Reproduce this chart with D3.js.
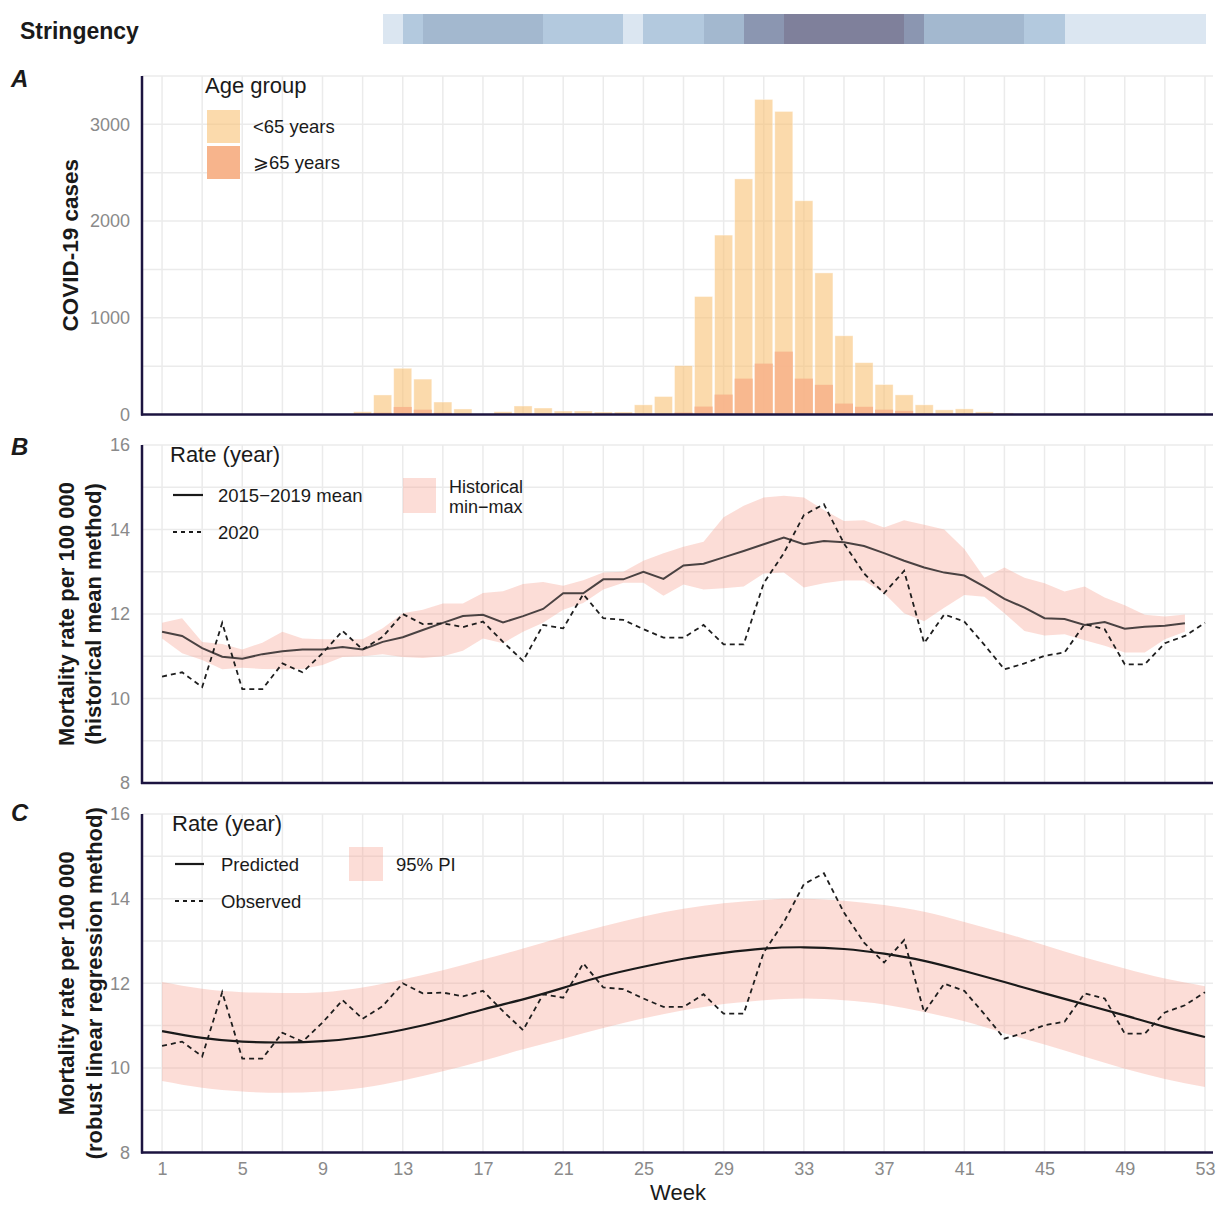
<!DOCTYPE html>
<html>
<head>
<meta charset="utf-8">
<script src="https://cdn.jsdelivr.net/npm/d3@7"></script>
<style>
  body { margin: 0; background: #fff; }
  text { font-family: "Liberation Sans", Arial, Helvetica, sans-serif; }
</style>
</head>
<body>
<svg id="chart" width="1216" height="1206"></svg>
<script>
// ---------------- DATA ----------------
const weeks = d3.range(1, 54); // 1..53

// Panel A: weekly COVID-19 cases by age group
const casesUnder65 = [0,0,0,0,0,0,0,0,0,0,
  29,202,478,366,129,57,0,29,88,67,
  36,36,26,26,100,186,505,1220,1855,2436,
  3258,3134,2210,1464,814,536,310,203,100,48,
  58,27,16,0,0,0,0,0,0,0,0,0,0];
const cases65plus = [0,0,0,0,0,0,0,0,0,0,
  0,19,78,50,18,5,0,0,0,0,
  0,0,0,0,0,5,20,82,206,371,
  526,650,371,307,113,80,50,38,10,5,
  0,0,0,0,0,0,0,0,0,0,0,0,0];

// Stringency level per week (tile spans week w .. w+1)
const stringencyWeeks = d3.range(12, 53);
const stringencyLevel = [1,2,3,3,3,3,3,3,2,2,2,2,1,2,2,2,3,3,4,4,5,5,5,5,5,5,4,3,3,3,3,3,2,2,1,1,1,1,1,1,1];

// Panel B: mortality rate per 100 000 (historical mean method)
const mean2015_2019 = [11.58,11.48,11.19,10.99,10.94,11.05,11.12,11.16,11.16,11.22,
  11.16,11.34,11.45,11.62,11.79,11.95,11.98,11.80,11.95,12.12,
  12.49,12.49,12.82,12.82,13.00,12.83,13.15,13.19,13.34,13.49,
  13.65,13.81,13.65,13.73,13.70,13.61,13.44,13.26,13.10,12.98,
  12.91,12.65,12.36,12.15,11.90,11.88,11.74,11.81,11.65,11.70,11.72,11.78];
const histMax = [11.79,11.90,11.34,11.29,11.16,11.32,11.58,11.42,11.40,11.40,
  11.40,11.66,12.02,12.10,12.25,12.25,12.50,12.54,12.71,12.76,
  12.67,12.80,12.98,13.00,13.26,13.44,13.59,13.71,14.29,14.56,
  14.76,14.80,14.76,14.46,14.20,14.22,14.05,14.22,14.11,14.00,
  13.54,12.86,13.10,12.86,12.73,12.53,12.65,12.39,12.21,11.98,11.94,11.99];
const histMin = [11.42,11.07,10.91,10.69,10.73,10.70,10.69,10.70,10.79,10.98,
  11.00,11.05,10.98,10.96,11.00,11.13,11.42,11.31,11.58,11.79,
  12.10,12.26,12.58,12.74,12.74,12.43,12.70,12.58,12.61,12.65,
  12.96,12.98,12.63,12.73,12.79,12.79,12.49,12.02,11.83,12.15,
  12.45,12.41,12.02,11.60,11.49,11.52,11.38,11.25,11.09,11.09,11.40,11.58];
const observed2020 = [10.52,10.62,10.27,11.79,10.22,10.22,10.83,10.62,11.07,11.60,
  11.16,11.46,12.00,11.76,11.78,11.69,11.82,11.34,10.89,11.74,
  11.66,12.47,11.90,11.86,11.64,11.44,11.44,11.74,11.28,11.28,
  12.73,13.44,14.34,14.60,13.67,12.96,12.49,13.02,11.31,11.99,
  11.82,11.27,10.69,10.83,11.01,11.09,11.76,11.64,10.81,10.81,
  11.31,11.48,11.79];

// Panel C: robust linear regression method (read at odd weeks)
const predWeeks = d3.range(1, 54, 2);
const predicted = [10.87,10.71,10.62,10.60,10.63,10.73,10.90,11.12,11.38,11.62,11.89,12.17,12.39,12.58,
  12.72,12.82,12.85,12.81,12.70,12.53,12.29,12.03,11.76,11.50,11.24,10.97,10.73];
const piUpper = [12.03,11.87,11.79,11.77,11.79,11.90,12.09,12.31,12.56,12.82,13.10,13.35,13.58,13.76,
  13.89,13.97,14.00,13.95,13.85,13.69,13.45,13.19,12.90,12.61,12.35,12.11,11.93];
const piLower = [9.69,9.53,9.44,9.41,9.44,9.53,9.70,9.92,10.17,10.44,10.69,10.94,11.17,11.36,
  11.51,11.60,11.64,11.60,11.50,11.32,11.10,10.82,10.55,10.26,9.98,9.74,9.55];

const xTickWeeks = d3.range(1, 54, 4);
const gridWeeks = d3.range(1, 54, 2);
const casesTicks = [0, 1000, 2000, 3000];
const casesGrid = d3.range(0, 3501, 500);
const rateTicks = [8, 10, 12, 14, 16];
const rateGrid = d3.range(8, 17, 1);

// ---------------- LAYOUT ----------------
const svg = d3.select("#chart");
const X0 = 142, X1 = 1213;
const x = d3.scaleLinear().domain([0, 53.4]).range([X0, X1]);

const panels = {
  A: { top: 76, bottom: 414.5 },
  B: { top: 445, bottom: 783 },
  C: { top: 814, bottom: 1152.5 }
};
const yA = d3.scaleLinear().domain([0, 3500]).range([panels.A.bottom, panels.A.top]);
const yB = d3.scaleLinear().domain([8, 16]).range([panels.B.bottom, panels.B.top]);
const yC = d3.scaleLinear().domain([8, 16]).range([panels.C.bottom, panels.C.top]);

const gridColor = "#ebebeb";
const axisColor = "#1c1440";
const tickColor = "#8a8a8a";
const ribbonFill = "#f69e8d";
const ribbonOpacity = 0.35;
const legendSize = 18.5;
const titleSize = 22;

function drawGrid(y, p, hVals) {
  const g = svg.append("g");
  g.selectAll("line.v").data(gridWeeks).join("line")
    .attr("x1", d => x(d)).attr("x2", d => x(d))
    .attr("y1", p.top).attr("y2", p.bottom)
    .attr("stroke", gridColor).attr("stroke-width", 1.5);
  g.selectAll("line.h").data(hVals).join("line")
    .attr("x1", X0).attr("x2", X1)
    .attr("y1", d => y(d)).attr("y2", d => y(d))
    .attr("stroke", gridColor).attr("stroke-width", 1.5);
}

function drawYAxis(y, ticks, fmt) {
  const ax = d3.axisLeft(y).tickValues(ticks).tickSize(0).tickPadding(12).tickFormat(fmt || d3.format("d"));
  const g = svg.append("g").attr("transform", `translate(${X0},0)`).call(ax);
  g.select(".domain").remove();
  g.selectAll("text").attr("fill", tickColor).attr("font-size", 18)
    .style("font-family", '"Liberation Sans", Arial, sans-serif');
}

function drawFrame(p) {
  svg.append("line").attr("x1", X0).attr("x2", X0).attr("y1", p.top).attr("y2", p.bottom + 1)
    .attr("stroke", axisColor).attr("stroke-width", 2.5);
  svg.append("line").attr("x1", X0 - 1).attr("x2", X1).attr("y1", p.bottom).attr("y2", p.bottom)
    .attr("stroke", axisColor).attr("stroke-width", 2.5);
}

// ---------------- STRINGENCY ----------------
const stringencyColors = ["#dbe6f1", "#b3c9de", "#a3b8cf", "#8b96b1", "#7f809b"];
svg.append("text").attr("x", 20).attr("y", 39).attr("font-size", 23).attr("font-weight", "bold")
  .attr("fill", "#1a1a1a").text("Stringency");
svg.append("g").attr("shape-rendering", "crispEdges").selectAll("rect").data(stringencyWeeks).join("rect")
  .attr("x", d => x(d)).attr("width", d => x(d + 1) - x(d) + 0.6)
  .attr("y", 14).attr("height", 30)
  .attr("fill", (d, i) => stringencyColors[stringencyLevel[i] - 1]);

// ---------------- PANEL A ----------------
drawGrid(yA, panels.A, casesGrid);
const barW = 0.9 * (x(2) - x(1));
const bars = svg.append("g");
bars.selectAll("rect.u").data(weeks.filter((w, i) => casesUnder65[i] > 0)).join("rect")
  .attr("x", w => x(w) - barW / 2).attr("width", barW)
  .attr("y", w => yA(casesUnder65[w - 1])).attr("height", w => yA(0) - yA(casesUnder65[w - 1]))
  .attr("fill", "#f8c175").attr("fill-opacity", 0.6)
  .attr("stroke", "#fff").attr("stroke-opacity", 0.5).attr("stroke-width", 0.8);
bars.selectAll("rect.o").data(weeks.filter((w, i) => cases65plus[i] > 0)).join("rect")
  .attr("x", w => x(w) - barW / 2).attr("width", barW)
  .attr("y", w => yA(cases65plus[w - 1])).attr("height", w => yA(0) - yA(cases65plus[w - 1]))
  .attr("fill", "#f7b48c").attr("fill-opacity", 0.9);
drawYAxis(yA, casesTicks);
drawFrame(panels.A);

// legend A
svg.append("text").attr("x", 205).attr("y", 93).attr("font-size", titleSize).attr("fill", "#1a1a1a").text("Age group");
svg.append("rect").attr("x", 207).attr("y", 110).attr("width", 33).attr("height", 33)
  .attr("fill", "#f8c175").attr("fill-opacity", 0.6);
svg.append("rect").attr("x", 207).attr("y", 146).attr("width", 33).attr("height", 33)
  .attr("fill", "#f7b48c");
svg.append("text").attr("x", 253).attr("y", 133).attr("font-size", legendSize).attr("fill", "#1a1a1a").text("<65 years");
svg.append("text").attr("x", 253).attr("y", 169).attr("font-size", legendSize).attr("fill", "#1a1a1a").text("⩾65 years");

// y title A
svg.append("text").attr("transform", `translate(78,${(panels.A.top + panels.A.bottom) / 2}) rotate(-90)`)
  .attr("text-anchor", "middle").attr("font-size", 22.5).attr("font-weight", "bold").attr("fill", "#1a1a1a")
  .text("COVID-19 cases");

// ---------------- PANEL B ----------------
drawGrid(yB, panels.B, rateGrid);
const idx52 = d3.range(0, 52);
svg.append("path").datum(idx52)
  .attr("d", d3.area().x(i => x(weeks[i])).y0(i => yB(histMin[i])).y1(i => yB(histMax[i])))
  .attr("fill", ribbonFill).attr("fill-opacity", ribbonOpacity);
svg.append("path").datum(idx52)
  .attr("d", d3.line().x(i => x(weeks[i])).y(i => yB(mean2015_2019[i])))
  .attr("fill", "none").attr("stroke", "#4a4242").attr("stroke-width", 2);
svg.append("path").datum(d3.range(0, 53))
  .attr("d", d3.line().x(i => x(weeks[i])).y(i => yB(observed2020[i])))
  .attr("fill", "none").attr("stroke", "#1e1e1e").attr("stroke-width", 1.8).attr("stroke-dasharray", "5,4");
drawYAxis(yB, rateTicks);
drawFrame(panels.B);

// legend B
svg.append("text").attr("x", 170).attr("y", 462).attr("font-size", titleSize).attr("fill", "#1a1a1a").text("Rate (year)");
svg.append("line").attr("x1", 173).attr("x2", 203).attr("y1", 495).attr("y2", 495).attr("stroke", "#1a1a1a").attr("stroke-width", 2.2);
svg.append("line").attr("x1", 173).attr("x2", 203).attr("y1", 532).attr("y2", 532).attr("stroke", "#1a1a1a").attr("stroke-width", 1.8).attr("stroke-dasharray", "4,4");
svg.append("text").attr("x", 218).attr("y", 501.5).attr("font-size", legendSize).attr("fill", "#1a1a1a").text("2015−2019 mean");
svg.append("text").attr("x", 218).attr("y", 538.5).attr("font-size", legendSize).attr("fill", "#1a1a1a").text("2020");
svg.append("rect").attr("x", 403).attr("y", 478).attr("width", 33).attr("height", 35)
  .attr("fill", ribbonFill).attr("fill-opacity", ribbonOpacity);
svg.append("text").attr("x", 449).attr("y", 493).attr("font-size", 18).attr("fill", "#1a1a1a").text("Historical");
svg.append("text").attr("x", 449).attr("y", 513).attr("font-size", 18).attr("fill", "#1a1a1a").text("min−max");

// y title B
const tB = svg.append("text").attr("transform", `translate(0,${(panels.B.top + panels.B.bottom) / 2}) rotate(-90)`)
  .attr("text-anchor", "middle").attr("font-size", 22).attr("font-weight", "bold").attr("fill", "#1a1a1a");
tB.append("tspan").attr("x", 0).attr("y", 74).text("Mortality rate per 100 000");
tB.append("tspan").attr("x", 0).attr("y", 101).text("(historical mean method)");

// ---------------- PANEL C ----------------
drawGrid(yC, panels.C, rateGrid);
const idxP = d3.range(0, predWeeks.length);
svg.append("path").datum(idxP)
  .attr("d", d3.area().curve(d3.curveNatural).x(i => x(predWeeks[i])).y0(i => yC(piLower[i])).y1(i => yC(piUpper[i])))
  .attr("fill", ribbonFill).attr("fill-opacity", ribbonOpacity);
svg.append("path").datum(idxP)
  .attr("d", d3.line().curve(d3.curveNatural).x(i => x(predWeeks[i])).y(i => yC(predicted[i])))
  .attr("fill", "none").attr("stroke", "#1a1a1a").attr("stroke-width", 2.2);
svg.append("path").datum(d3.range(0, 53))
  .attr("d", d3.line().x(i => x(weeks[i])).y(i => yC(observed2020[i])))
  .attr("fill", "none").attr("stroke", "#1e1e1e").attr("stroke-width", 1.8).attr("stroke-dasharray", "5,4");
drawYAxis(yC, rateTicks);
drawFrame(panels.C);

// x axis labels
const xa = d3.axisBottom(x).tickValues(xTickWeeks).tickSize(0).tickPadding(10).tickFormat(d3.format("d"));
const gx = svg.append("g").attr("transform", `translate(0,${panels.C.bottom})`).call(xa);
gx.select(".domain").remove();
gx.selectAll("text").attr("fill", tickColor).attr("font-size", 18)
  .style("font-family", '"Liberation Sans", Arial, sans-serif');
svg.append("text").attr("x", 678).attr("y", 1200).attr("text-anchor", "middle")
  .attr("font-size", 22).attr("fill", "#1a1a1a").text("Week");

// legend C
svg.append("text").attr("x", 172).attr("y", 831).attr("font-size", titleSize).attr("fill", "#1a1a1a").text("Rate (year)");
svg.append("line").attr("x1", 175).attr("x2", 204).attr("y1", 864).attr("y2", 864).attr("stroke", "#1a1a1a").attr("stroke-width", 2.2);
svg.append("line").attr("x1", 175).attr("x2", 204).attr("y1", 901).attr("y2", 901).attr("stroke", "#1a1a1a").attr("stroke-width", 1.8).attr("stroke-dasharray", "4,4");
svg.append("text").attr("x", 221).attr("y", 870.5).attr("font-size", legendSize).attr("fill", "#1a1a1a").text("Predicted");
svg.append("text").attr("x", 221).attr("y", 907.5).attr("font-size", legendSize).attr("fill", "#1a1a1a").text("Observed");
svg.append("rect").attr("x", 349).attr("y", 847).attr("width", 34).attr("height", 34)
  .attr("fill", ribbonFill).attr("fill-opacity", ribbonOpacity);
svg.append("text").attr("x", 396).attr("y", 870.5).attr("font-size", legendSize).attr("fill", "#1a1a1a").text("95% PI");

// y title C
const tC = svg.append("text").attr("transform", `translate(0,${(panels.C.top + panels.C.bottom) / 2}) rotate(-90)`)
  .attr("text-anchor", "middle").attr("font-size", 22).attr("font-weight", "bold").attr("fill", "#1a1a1a");
tC.append("tspan").attr("x", 0).attr("y", 74).text("Mortality rate per 100 000");
tC.append("tspan").attr("x", 0).attr("y", 102).text("(robust linear regression method)");

// panel letters
[["A", 87], ["B", 455], ["C", 821]].forEach(([t, yy]) => {
  svg.append("text").attr("x", 11).attr("y", yy).attr("font-size", 24).attr("font-weight", "bold")
    .attr("font-style", "italic").attr("fill", "#1a1a1a").text(t);
});
</script>
</body>
</html>
